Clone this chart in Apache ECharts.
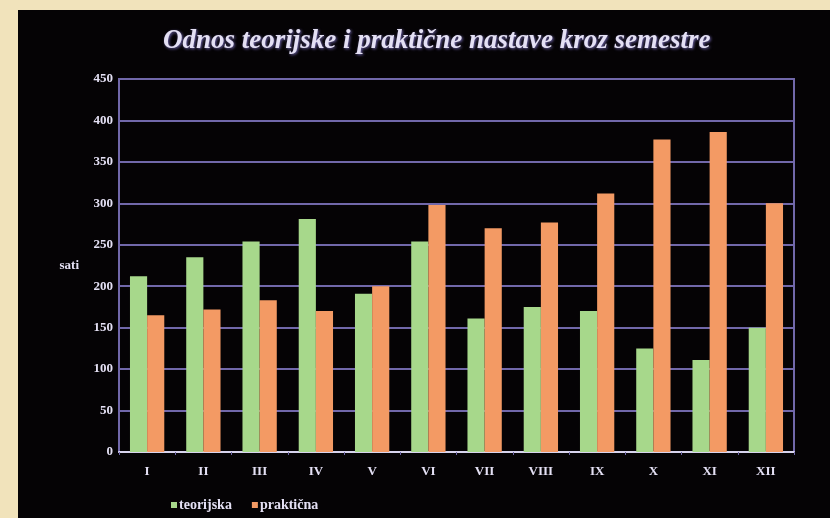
<!DOCTYPE html>
<html>
<head>
<meta charset="UTF-8">
<title>Odnos teorijske i praktične nastave</title>
<script src="https://cdn.jsdelivr.net/npm/echarts@6/dist/echarts.min.js"></script>
<style>
  html, body { margin: 0; padding: 0; background: #f1e3bb; }
  #main { width: 830px; height: 518px; }
</style>
</head>
<body>
<div id="main"></div>
<script>
// semestri
var semestri = ['I', 'II', 'III', 'IV', 'V', 'VI', 'VII', 'VIII', 'IX', 'X', 'XI', 'XII'];
// sati po semestru
var teorijska = [212, 235, 254, 281, 191, 254, 161, 175, 170, 125, 111, 150];
var prakticna = [165, 172, 183, 170, 200, 298, 270, 277, 312, 377, 386, 300];
var yTicks = [0, 450, 50];

var lav = '#7168aa';
var txt = '#e4e0f4';
var serif = '"Liberation Serif", "DejaVu Serif", serif';

var chart = echarts.init(document.getElementById('main'));
chart.setOption({
    backgroundColor: '#f1e3bb',
    animation: false,
    graphic: [{
        type: 'rect', z: -10,
        shape: { x: 18, y: 10, width: 812, height: 508 },
        style: { fill: '#050305' }
    }],
    title: {
        text: 'Odnos teorijske i praktične nastave kroz semestre',
        left: 158, top: 23,
        textStyle: {
            color: txt, fontFamily: serif, fontStyle: 'italic', fontWeight: 'bold',
            fontSize: 27, textShadowColor: '#6d63a8', textShadowBlur: 3,
            textShadowOffsetX: 1, textShadowOffsetY: 1
        }
    },
    legend: {
        left: 166, top: 493,
        itemWidth: 6, itemHeight: 6, itemGap: 20,
        icon: 'rect',
        textStyle: { color: txt, fontFamily: serif, fontWeight: 'bold', fontSize: 14, padding: [0, 0, 0, -3] }
    },
    grid: {
        left: 119, right: 36, top: 79, bottom: 66,
        show: true, borderColor: lav, borderWidth: 2
    },
    xAxis: {
        type: 'category',
        data: semestri,
        axisLine: { lineStyle: { color: '#d8d4ee', width: 2 } },
        axisTick: { show: true, length: 3, lineStyle: { color: lav } },
        axisLabel: { color: txt, fontFamily: serif, fontWeight: 'bold', fontSize: 13, margin: 13 }
    },
    yAxis: {
        type: 'value',
        min: yTicks[0], max: yTicks[1], interval: yTicks[2],
        name: 'sati', nameLocation: 'middle', nameRotate: 0, nameGap: 40,
        nameTextStyle: { color: txt, fontFamily: serif, fontWeight: 'bold', fontSize: 13, padding: [8, 0, 0, 0] },
        axisLine: { show: true, lineStyle: { color: lav, width: 2 } },
        axisTick: { show: false },
        splitLine: { lineStyle: { color: lav, width: 2 } },
        axisLabel: { color: txt, fontFamily: serif, fontWeight: 'bold', fontSize: 13, margin: 6 }
    },
    series: [{
        name: 'teorijska', type: 'bar', data: teorijska,
        barGap: '0%', barCategoryGap: '39%',
        itemStyle: { color: '#a7d88b' }
    }, {
        name: 'praktična', type: 'bar', data: prakticna,
        itemStyle: { color: '#f39a64' }
    }]
});
</script>
</body>
</html>
